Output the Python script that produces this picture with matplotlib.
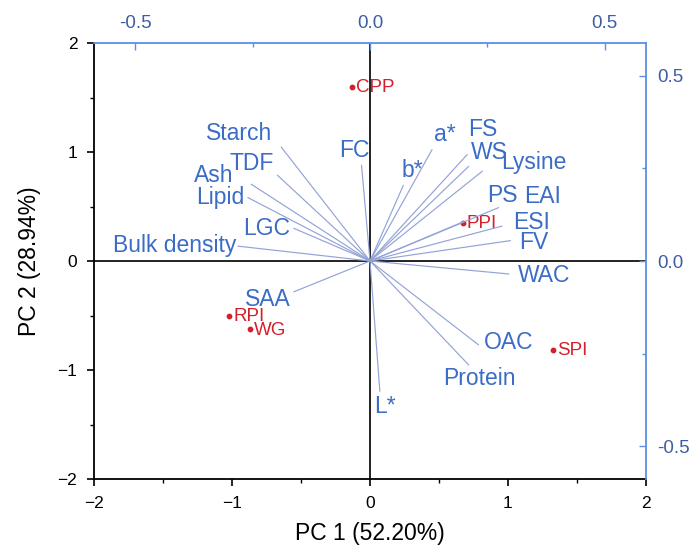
import matplotlib
matplotlib.use("Agg")
import matplotlib.pyplot as plt
from matplotlib.ticker import MultipleLocator, FormatStrFormatter

plt.rcParams['font.family'] = ['Liberation Sans', 'DejaVu Sans']

# Variable loadings on PC1 / PC2
variables = ["Starch", "TDF", "Ash", "Lipid", "LGC", "Bulk density", "FC",
             "a*", "b*", "FS", "WS", "Lysine", "PS", "EAI", "ESI", "FV",
             "WAC", "SAA", "OAC", "Protein", "L*"]
load_pc1 = [-0.189, -0.197, -0.253, -0.260, -0.162, -0.281, -0.018,
            0.132, 0.071, 0.207, 0.210, 0.239, 0.274, 0.199, 0.281, 0.299,
            0.296, -0.162, 0.231, 0.210, 0.021]
load_pc2 = [0.307, 0.231, 0.207, 0.171, 0.088, 0.040, 0.258,
            0.300, 0.204, 0.287, 0.255, 0.242, 0.144, 0.106, 0.094, 0.055,
            -0.035, -0.083, -0.226, -0.280, -0.351]

# Sample scores on PC1 / PC2
samples = ["CPP", "PPI", "RPI", "WG", "SPI"]
score_pc1 = [-0.133, 0.673, -1.021, -0.871, 1.326]
score_pc2 = [1.60, 0.351, -0.503, -0.625, -0.815]

# Label placement relative to each loading tip (pixels)
label_offsets = {
    "Starch": (-42, 14), "TDF": (-26, 12), "Ash": (-38, 9), "Lipid": (-28, 0),
    "LGC": (-27, 0), "Bulk density": (-63, 1), "FC": (-7, 15),
    "a*": (13, 15), "b*": (9, 15), "FS": (16, 25), "WS": (21, 14),
    "Lysine": (52, 9), "PS": (4, 12), "EAI": (79, 25), "ESI": (30, 4),
    "FV": (23, -2), "WAC": (35, -2), "SAA": (-26, -8), "OAC": (30, 2),
    "Protein": (11, -14), "L*": (5, -15),
}

BLUE_TXT = "#3b6cc6"
BLUE_AX = "#5b8fe3"
BLUE_TICK = "#3d5ea6"
RED = "#d3202c"
LINE = "#93a3d6"

fig = plt.figure(figsize=(6.92, 5.48), dpi=100)
pos = [94 / 692, 1 - 479 / 548, (646 - 94) / 692, (479 - 43) / 548]
ax = fig.add_axes(pos)
ax2 = fig.add_axes(pos)
ax2.patch.set_visible(False)

# Score axes (bottom / left)
ax.set_xlim(-2, 2)
ax.set_ylim(-2, 2)
ax.xaxis.set_major_locator(MultipleLocator(1))
ax.xaxis.set_minor_locator(MultipleLocator(0.5))
ax.yaxis.set_major_locator(MultipleLocator(1))
ax.yaxis.set_minor_locator(MultipleLocator(0.5))
ax.tick_params(which='major', direction='out', length=5, width=1.2,
               labelsize=12.5, pad=7)
ax.tick_params(which='minor', direction='out', length=3, width=1.0)
ax.spines['top'].set_visible(False)
ax.spines['right'].set_visible(False)
for s in ('left', 'bottom'):
    ax.spines[s].set_linewidth(1.3)
ax.axhline(0, color='#222222', lw=1.4, zorder=1)
ax.axvline(0, color='#222222', lw=1.4, zorder=1)
ax.set_xlabel("PC 1 (52.20%)", fontsize=16.5, labelpad=8)
ax.set_ylabel("PC 2 (28.94%)", fontsize=16.5, labelpad=12)

# Loading axes (top / right)
lim = 2 / 3.4
ax2.set_xlim(-lim, lim)
ax2.set_ylim(-lim, lim)
ax2.xaxis.tick_top()
ax2.yaxis.tick_right()
ax2.xaxis.set_major_locator(MultipleLocator(0.5))
ax2.xaxis.set_minor_locator(MultipleLocator(0.25))
ax2.yaxis.set_major_locator(MultipleLocator(0.5))
ax2.yaxis.set_minor_locator(MultipleLocator(0.25))
ax2.tick_params(which='major', direction='in', length=5, width=1.0,
                colors=BLUE_AX, labelcolor=BLUE_TICK, labelsize=13.5, pad=8)
ax2.tick_params(which='minor', direction='in', length=3, width=1.0,
                colors=BLUE_AX)
ax2.xaxis.set_major_formatter(FormatStrFormatter('%.1f'))
ax2.yaxis.set_major_formatter(FormatStrFormatter('%.1f'))
for s in ('top', 'right'):
    ax2.spines[s].set_color(BLUE_AX)
    ax2.spines[s].set_linewidth(1.3)
for s in ('left', 'bottom'):
    ax2.spines[s].set_visible(False)

# Loading vectors
for name, lx, ly in zip(variables, load_pc1, load_pc2):
    ax2.plot([0, lx], [0, ly], color=LINE, lw=0.85, zorder=2)
    dx, dy = label_offsets[name]
    ax2.annotate(name, (lx, ly), xytext=(dx, dy), textcoords='offset pixels',
                 ha='center', va='center', fontsize=16.5, color=BLUE_TXT,
                 zorder=4)

# Sample scores
ax2.set_zorder(ax.get_zorder() + 1)
ax.scatter(score_pc1, score_pc2, s=10, color=RED, zorder=5)
for name, sx, sy in zip(samples, score_pc1, score_pc2):
    ax.annotate(name, (sx, sy), xytext=(4, -1), textcoords='offset pixels',
                ha='left', va='center', fontsize=13.5, color=RED, zorder=5)

fig.savefig("out.png", dpi=100)
